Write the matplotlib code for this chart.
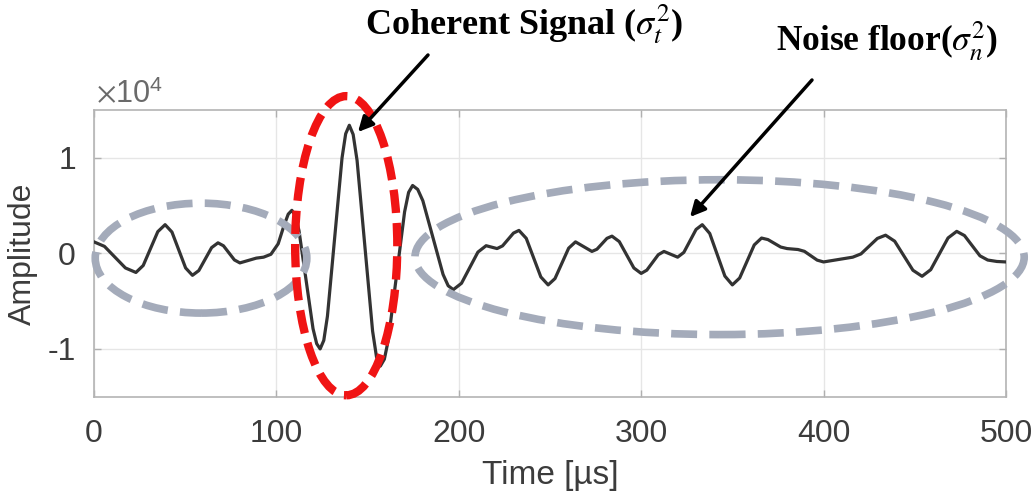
import matplotlib
matplotlib.use("Agg")
import matplotlib.pyplot as plt
from matplotlib.patches import Ellipse
from matplotlib.ticker import FuncFormatter, FixedLocator

plt.rcParams['axes.unicode_minus'] = False
plt.rcParams['font.family'] = ['Liberation Sans', 'DejaVu Sans']
plt.rcParams['mathtext.fontset'] = 'stix'

# ---- data (time in us, amplitude in units of 1e4) ----
time_us = [0, 5.75, 11.5, 17.25, 23, 27, 31, 35, 39, 42.75, 46.5, 50.25, 54,
           57.5, 61, 64.5, 68, 71, 74, 77, 80, 84.5, 89, 93, 97, 101, 104, 106.5,
           108.5, 110.4, 112.4, 116.25, 120.1, 122.1, 124, 126, 128, 132, 136, 138,
           140, 142.1, 144.25, 148.5, 152.75, 154.9, 157, 159.2, 161.4, 165.85,
           170.3, 172.5, 174.7, 177.5, 180.3, 185.85, 191.4, 194.2, 197, 201.5,
           206, 210.5, 215, 218, 221, 224, 227, 230, 233, 237, 241, 245, 249,
           252.75, 256.5, 260.25, 264, 268.5, 273, 275.75, 278.5, 281.25, 284, 288,
           292, 296, 300, 303.1, 306.25, 309.4, 312.5, 316.25, 320, 323.4, 326.75,
           330.1, 333.5, 337.6, 341.75, 345.9, 350, 354, 358, 362, 366, 369.5, 373,
           376.5, 380, 386, 389.5, 393, 396.5, 400, 408, 416, 420.5, 425, 429.5,
           434, 439, 444, 449, 454, 458.75, 463.5, 468.25, 473, 477.25, 481.5,
           485.75, 490, 495, 500]
amp_e4 = [0.12, 0.073, -0.04, -0.153, -0.20, -0.127, 0.05, 0.227, 0.30, 0.223,
          0.035, -0.153, -0.23, -0.18, -0.06, 0.06, 0.11, 0.079, 0.005, -0.069,
          -0.10, -0.075, -0.05, -0.04, -0.01, 0.10, 0.28, 0.41,
          0.45, 0.395, 0.238, -0.275, -0.788, -0.945, -1.00, -0.911, -0.658, 0.17,
          0.998, 1.251, 1.34, 1.244, 0.972, 0.08, -0.812, -1.084, -1.18, -1.108,
          -0.904, -0.235, 0.434, 0.638, 0.71, 0.669, 0.551, 0.165, -0.221, -0.339,
          -0.38, -0.313, -0.15, 0.013, 0.08, 0.065, 0.05, 0.078, 0.145, 0.212,
          0.24, 0.157, -0.045, -0.247, -0.33, -0.264, -0.105, 0.054, 0.12, 0.07,
          0.02, 0.043, 0.10, 0.157, 0.18, 0.123, -0.015, -0.153, -0.21, -0.176,
          -0.095, -0.014, 0.02, -0.01, -0.04, 0.01, 0.13, 0.25, 0.30, 0.208,
          -0.015, -0.238, -0.33, -0.258, -0.085, 0.088, 0.16, 0.144, 0.105, 0.066,
          0.05, 0.04, 0.021, -0.025, -0.071, -0.09, -0.065, -0.04, -0.006, 0.075,
          0.156, 0.19, 0.127, -0.025, -0.177, -0.24, -0.171, -0.005, 0.161, 0.23,
          0.186, 0.08, -0.026, -0.07, -0.085, -0.09]
scale = 1e4
amplitude = [a * scale for a in amp_e4]

x_ticks = [0, 100, 200, 300, 400, 500]
y_ticks = [-1e4, 0, 1e4]

fig = plt.figure(figsize=(10.36, 4.97), dpi=100)
ax = fig.add_axes([0.0907, 0.2018, 0.8803, 0.5769])

ax.plot(time_us, amplitude, color='#333333', lw=2.3, zorder=3,
        solid_joinstyle='round')

ax.set_xlim(0, 500)
ax.set_ylim(-1.5e4, 1.5e4)
ax.xaxis.set_major_locator(FixedLocator(x_ticks))
ax.yaxis.set_major_locator(FixedLocator(y_ticks))
ax.yaxis.set_major_formatter(FuncFormatter(lambda v, p: '%d' % round(v / scale)))

tick_col = '#3c3c3c'
ax.tick_params(axis='both', which='major', direction='in', length=5, width=1,
               color='#b0b0b0', labelsize=23, labelcolor=tick_col,
               top=True, right=True)
ax.tick_params(axis='x', pad=16)
ax.tick_params(axis='y', pad=13)

ax.grid(True, color='#e6e6e6', lw=1.0, zorder=0)
for s in ax.spines.values():
    s.set_color('#b4b4b4')
    s.set_linewidth(1.2)

ax.set_xlabel('Time [µs]', fontsize=24, color=tick_col, labelpad=8)
ax.set_ylabel('Amplitude', fontsize=23, color=tick_col, labelpad=7)

# ---- ellipses ----
grey = '#a4abba'
red = '#f01414'
e1 = Ellipse((58.7, -0.05e4), 116, 1.15e4, fill=False, edgecolor=grey, lw=5.5,
             linestyle=(0, (3.4, 1.6)), clip_on=False, zorder=4)
e2 = Ellipse((343, -0.04e4), 334, 1.62e4, fill=False, edgecolor=grey, lw=5.5,
             linestyle=(0, (3.4, 1.6)), clip_on=False, zorder=4)
e3 = Ellipse((138.3, 0.08e4), 56, 3.13e4, fill=False, edgecolor=red, lw=6,
             linestyle=(0, (2.8, 1.2)), clip_on=False, zorder=5)
for e in (e1, e2, e3):
    ax.add_patch(e)

# ---- annotations (figure pixel coordinates, origin top-left) ----
W, H = 1036, 497
def fpt(px, py):
    return (px / W, 1 - py / H)

fig.text(*fpt(96, 103), r'$\times$10$^{\mathregular{4}}$', fontsize=22,
         color='#6a6a6a', ha='left', va='baseline')

ax.annotate('', xy=fpt(358, 132), xycoords='figure fraction',
            xytext=fpt(428, 55), textcoords='figure fraction',
            arrowprops=dict(arrowstyle='-|>,head_length=0.9,head_width=0.45',
                            color='black', lw=2.5, shrinkA=0, shrinkB=0), zorder=6)
ax.annotate('', xy=fpt(690, 217), xycoords='figure fraction',
            xytext=fpt(812, 80), textcoords='figure fraction',
            arrowprops=dict(arrowstyle='-|>,head_length=0.9,head_width=0.45',
                            color='black', lw=2.5, shrinkA=0, shrinkB=0), zorder=6)

fig.text(*fpt(365, 34), r'Coherent Signal ($\sigma_t^2$)', fontsize=26,
         family='Liberation Serif', weight='bold', ha='left', va='baseline')
fig.text(*fpt(776, 51), r'Noise floor($\sigma_n^2$)', fontsize=25.5,
         family='Liberation Serif', weight='bold', ha='left', va='baseline')

fig.savefig('out.png', dpi=100)
